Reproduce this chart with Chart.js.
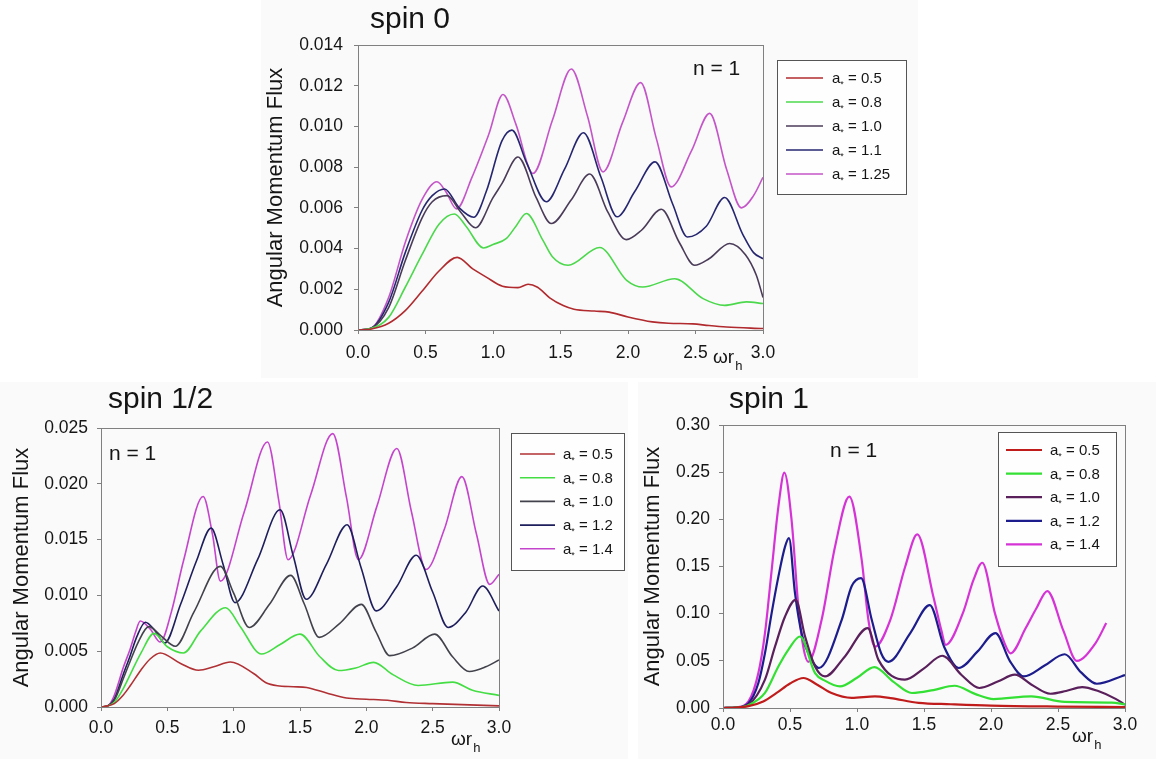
<!DOCTYPE html>
<html>
<head>
<meta charset="utf-8">
<script src="https://cdn.jsdelivr.net/npm/chart.js@4"></script>
<style>
  body { margin: 0; background: #fff; width: 1156px; height: 759px; position: relative; overflow: hidden; }
  .panel { position: absolute; background: #fafafa; }
  #p0 { left: 261px; top: 0; width: 657px; height: 378px; }
  #p1 { left: 0; top: 382px; width: 628px; height: 377px; }
  #p2 { left: 638px; top: 382px; width: 518px; height: 377px; }
  canvas { display: block; }
</style>
</head>
<body>
<div class="panel" id="p0"><canvas id="spin0" width="657" height="378"></canvas></div>
<div class="panel" id="p1"><canvas id="spinHalf" width="628" height="377"></canvas></div>
<div class="panel" id="p2"><canvas id="spin1" width="518" height="377"></canvas></div>
<script>
// ---- data (x = omega r_h, y = angular momentum flux) ----
const spin0Values = ['0.5', '0.8', '1.0', '1.1', '1.25'];
const spin0_a05 = [[0,0],[0.1,0.00005],[0.227,0.00033],[0.35,0.00095],[0.474,0.0019],[0.6,0.0029],[0.735,0.00357],[0.85,0.003],[0.95,0.0026],[1.07,0.00215],[1.185,0.00208],[1.26,0.00225],[1.33,0.0021],[1.42,0.00158],[1.52,0.0012],[1.6,0.00102],[1.75,0.00093],[1.86,0.00088],[2.0,0.00064],[2.18,0.0004],[2.3,0.00033],[2.48,0.0003],[2.6,0.00022],[2.73,0.00015],[3.0,0.00007]];
const spin0_a08 = [[0,0],[0.1,0.00008],[0.227,0.00062],[0.35,0.0021],[0.474,0.0037],[0.6,0.0052],[0.714,0.0057],[0.8,0.0051],[0.93,0.00403],[1.0,0.0042],[1.1,0.0045],[1.17,0.0051],[1.247,0.00572],[1.37,0.0044],[1.44,0.0036],[1.556,0.00318],[1.79,0.00405],[1.99,0.00244],[2.11,0.00211],[2.346,0.00252],[2.556,0.00154],[2.716,0.00121],[2.877,0.00138],[3.0,0.0013]];
const spin0_a10 = [[0,0],[0.1,0.0001],[0.227,0.0011],[0.35,0.0034],[0.474,0.0055],[0.55,0.0063],[0.66,0.0066],[0.76,0.0058],[0.87,0.00502],[1.0,0.0065],[1.067,0.0072],[1.185,0.0085],[1.32,0.0065],[1.432,0.00523],[1.58,0.0064],[1.716,0.00766],[1.85,0.0058],[1.988,0.00444],[2.1,0.0049],[2.247,0.00593],[2.38,0.0043],[2.494,0.00318],[2.6,0.0035],[2.753,0.00425],[2.87,0.0037],[2.95,0.0027],[3.0,0.0016]];
const spin0_a11 = [[0,0],[0.1,0.0001],[0.227,0.00136],[0.35,0.0038],[0.474,0.00587],[0.55,0.0066],[0.642,0.00693],[0.75,0.006],[0.857,0.00554],[0.95,0.0068],[1.067,0.0093],[1.14,0.00982],[1.25,0.0082],[1.395,0.0063],[1.53,0.0079],[1.67,0.00969],[1.8,0.0075],[1.92,0.00556],[2.05,0.0068],[2.2,0.00826],[2.33,0.0062],[2.44,0.00457],[2.58,0.0051],[2.716,0.00651],[2.85,0.0047],[2.93,0.0038],[3.0,0.0035]];
const spin0_a125 = [[0,0],[0.1,0.0001],[0.227,0.0016],[0.35,0.0043],[0.474,0.0064],[0.585,0.00728],[0.65,0.0068],[0.73,0.00595],[0.844,0.0075],[0.968,0.0096],[1.074,0.01157],[1.17,0.0101],[1.296,0.00769],[1.44,0.0103],[1.58,0.01282],[1.7,0.0105],[1.815,0.00777],[1.96,0.0102],[2.094,0.01215],[2.21,0.0094],[2.32,0.00703],[2.47,0.0088],[2.605,0.01064],[2.73,0.0079],[2.84,0.006],[2.93,0.0066],[3.0,0.0075]];

const spinHalfValues = ['0.5', '0.8', '1.0', '1.2', '1.4'];
const spinHalf_a05 = [[0,0],[0.05,0.0001],[0.1,0.0003],[0.17,0.0011],[0.22,0.0019],[0.3,0.0033],[0.37,0.0043],[0.447,0.00484],[0.6,0.0039],[0.735,0.00329],[0.85,0.0036],[0.975,0.00403],[1.15,0.003],[1.24,0.0022],[1.33,0.0019],[1.45,0.00182],[1.55,0.00175],[1.7,0.00125],[1.85,0.0008],[2.0,0.0007],[2.16,0.0006],[2.3,0.0004],[2.5,0.0003],[3.0,0.0001]];
const spinHalf_a08 = [[0,0],[0.05,0.0001],[0.1,0.0004],[0.17,0.0017],[0.22,0.0029],[0.3,0.0048],[0.4,0.0066],[0.5,0.0054],[0.622,0.00484],[0.75,0.0068],[0.94,0.0089],[1.05,0.0072],[1.21,0.00475],[1.35,0.0056],[1.5,0.00653],[1.65,0.0045],[1.79,0.00327],[1.92,0.0035],[2.055,0.004],[2.2,0.0029],[2.39,0.00193],[2.65,0.00223],[2.8,0.0015],[3.0,0.00104]];
const spinHalf_a10 = [[0,0],[0.05,0.0001],[0.1,0.0006],[0.17,0.0026],[0.22,0.0041],[0.28,0.0058],[0.36,0.0072],[0.45,0.0064],[0.56,0.00544],[0.7,0.0085],[0.9,0.0126],[1.0,0.0102],[1.117,0.00713],[1.27,0.0092],[1.43,0.01179],[1.53,0.0093],[1.645,0.00624],[1.8,0.0075],[1.962,0.0092],[2.07,0.0068],[2.177,0.0046],[2.35,0.0053],[2.515,0.00653],[2.65,0.0045],[2.776,0.00318],[2.9,0.0036],[3.0,0.00422]];
const spinHalf_a12 = [[0,0],[0.05,0.0001],[0.1,0.0007],[0.17,0.003],[0.22,0.0046],[0.27,0.0063],[0.334,0.0076],[0.41,0.0068],[0.48,0.00573],[0.6,0.0092],[0.72,0.0131],[0.83,0.01603],[0.92,0.0128],[1.01,0.00935],[1.18,0.0132],[1.35,0.01767],[1.45,0.0135],[1.547,0.00965],[1.7,0.0128],[1.855,0.01633],[1.96,0.0125],[2.075,0.00861],[2.23,0.0108],[2.376,0.0136],[2.5,0.0103],[2.616,0.00713],[2.75,0.0085],[2.877,0.01084],[3.0,0.0086]];
const spinHalf_a14 = [[0,0],[0.05,0.0001],[0.095,0.0009],[0.17,0.0036],[0.22,0.0052],[0.26,0.0067],[0.296,0.0077],[0.37,0.007],[0.447,0.00582],[0.53,0.0085],[0.622,0.0131],[0.77,0.01886],[0.84,0.0155],[0.9,0.01128],[1.08,0.0175],[1.255,0.02375],[1.34,0.0185],[1.41,0.0132],[1.58,0.019],[1.747,0.0245],[1.85,0.0188],[1.94,0.0132],[2.08,0.018],[2.23,0.02316],[2.34,0.0175],[2.45,0.01232],[2.59,0.016],[2.72,0.02064],[2.83,0.0155],[2.93,0.01099],[3.0,0.0119]];

const spin1Values = ['0.5', '0.8', '1.0', '1.2', '1.4'];
const spin1_a05 = [[0,0],[0.1,0.0005],[0.19,0.002],[0.3,0.007],[0.4,0.016],[0.5,0.026],[0.6,0.0318],[0.7,0.025],[0.81,0.0159],[0.96,0.0108],[1.134,0.0123],[1.25,0.0105],[1.46,0.0055],[1.7,0.004],[2.0,0.0025],[2.5,0.0015],[3.0,0.001]];
const spin1_a08 = [[0,0],[0.1,0.0005],[0.19,0.003],[0.313,0.016],[0.413,0.044],[0.487,0.0617],[0.575,0.0758],[0.687,0.037],[0.76,0.029],[0.873,0.0229],[1.0,0.032],[1.13,0.0434],[1.27,0.028],[1.41,0.0159],[1.57,0.019],[1.728,0.0236],[1.88,0.015],[2.02,0.0095],[2.3,0.0123],[2.55,0.0064],[2.9,0.0058],[3.0,0.004]];
const spin1_a10 = [[0,0],[0.1,0.0005],[0.19,0.0035],[0.313,0.03],[0.388,0.065],[0.463,0.097],[0.542,0.1147],[0.612,0.076],[0.687,0.044],[0.761,0.0335],[0.91,0.0547],[1.08,0.0847],[1.16,0.051],[1.358,0.03],[1.5,0.042],[1.636,0.0554],[1.78,0.035],[1.913,0.0212],[2.05,0.028],[2.178,0.0353],[2.3,0.025],[2.443,0.0151],[2.56,0.018],[2.68,0.0222],[2.8,0.018],[2.93,0.0097],[3.0,0.0035]];
const spin1_a12 = [[0,0],[0.1,0.0005],[0.19,0.005],[0.264,0.0265],[0.313,0.058],[0.363,0.1006],[0.413,0.139],[0.463,0.171],[0.4925,0.18],[0.537,0.122],[0.587,0.079],[0.662,0.051],[0.716,0.0424],[0.886,0.0935],[0.96,0.129],[1.03,0.1377],[1.11,0.0935],[1.18,0.058],[1.234,0.049],[1.4,0.08],[1.543,0.109],[1.65,0.065],[1.76,0.0424],[1.9,0.06],[2.033,0.0794],[2.14,0.05],[2.245,0.0335],[2.4,0.045],[2.55,0.057],[2.67,0.038],[2.79,0.0257],[3.0,0.035]];
const spin1_a14 = [[0,0],[0.1,0.0008],[0.19,0.007],[0.264,0.037],[0.313,0.079],[0.363,0.146],[0.413,0.213],[0.458,0.2495],[0.512,0.199],[0.562,0.108],[0.6,0.064],[0.637,0.049],[0.736,0.0935],[0.836,0.171],[0.943,0.224],[1.035,0.157],[1.085,0.0935],[1.134,0.065],[1.25,0.094],[1.36,0.15],[1.45,0.184],[1.57,0.118],[1.63,0.082],[1.662,0.067],[1.79,0.1006],[1.87,0.136],[1.935,0.154],[2.03,0.1],[2.1,0.069],[2.146,0.058],[2.26,0.085],[2.34,0.106],[2.42,0.124],[2.54,0.082],[2.64,0.05],[2.78,0.0688],[2.86,0.09]];

const xTicks = [0, 0.5, 1.0, 1.5, 2.0, 2.5, 3.0];

const FONT = '"Liberation Sans", Arial, sans-serif';
const TEXT = '#151515';
const AXIS = '#808080';

// frame, title, "n = 1", x-axis label and the boxed legend
const panelDecor = {
  id: 'panelDecor',
  afterDraw(chart, args, o) {
    const { ctx, chartArea: a } = chart;
    ctx.save();
    ctx.strokeStyle = AXIS;
    ctx.lineWidth = 1;
    ctx.strokeRect(Math.round(a.left) + 0.5, Math.round(a.top) + 0.5, Math.round(a.right - a.left), Math.round(a.bottom - a.top));

    ctx.fillStyle = TEXT;
    ctx.textBaseline = 'alphabetic';
    ctx.textAlign = 'left';
    ctx.font = '30px ' + FONT;
    ctx.fillText(o.title, o.titleX, o.titleY);
    ctx.font = '21px ' + FONT;
    ctx.fillText('n = 1', o.nX, o.nY);

    // omega r_h
    ctx.font = '19px ' + FONT;
    ctx.fillText('\u03C9r', o.wX, o.wY);
    const ww = ctx.measureText('\u03C9r').width;
    ctx.font = '13px ' + FONT;
    ctx.fillText('h', o.wX + ww + 1, o.wY + 7);

    // legend
    const L = o.legend;
    ctx.fillStyle = '#fefefe';
    ctx.fillRect(L.x, L.y, L.w, L.h);
    ctx.strokeStyle = '#555';
    ctx.strokeRect(L.x + 0.5, L.y + 0.5, L.w, L.h);
    chart.data.datasets.forEach((ds, i) => {
      const y = L.row0 + i * L.step;
      ctx.strokeStyle = ds.borderColor;
      ctx.lineWidth = ds.borderWidth;
      ctx.beginPath();
      ctx.moveTo(L.lineX0, y);
      ctx.lineTo(L.lineX1, y);
      ctx.stroke();
      ctx.fillStyle = TEXT;
      ctx.font = '15px ' + FONT;
      ctx.fillText('a', L.textX, y + 5);
      let x = L.textX + ctx.measureText('a').width;
      ctx.font = '9px ' + FONT;
      ctx.fillText('*', x, y + 9);
      x += ctx.measureText('*').width;
      ctx.font = '15px ' + FONT;
      ctx.fillText(' = ' + o.values[i], x, y + 5);
    });
    ctx.restore();
  }
};

function toPoints(arr) {
  return arr.map(p => ({ x: p[0], y: p[1] }));
}

function series(values, arrays, colors, width) {
  return arrays.map((arr, i) => ({
    label: 'a* = ' + values[i],
    data: toPoints(arr),
    borderColor: colors[i],
    borderWidth: width,
    pointRadius: 0,
    fill: false,
    cubicInterpolationMode: 'monotone'
  }));
}

function makeChart(id, cfg) {
  return new Chart(document.getElementById(id), {
    type: 'line',
    data: { datasets: cfg.datasets },
    options: {
      responsive: false,
      animation: false,
      layout: { padding: { left: 0, top: cfg.top, right: cfg.right, bottom: 0 } },
      plugins: {
        legend: { display: false },
        tooltip: { enabled: false },
        panelDecor: cfg.decor
      },
      scales: {
        x: {
          type: 'linear',
          min: 0, max: 3,
          afterFit: s => { s.height = cfg.xHeight; },
          afterBuildTicks: s => { s.ticks = xTicks.map(v => ({ value: v })); },
          grid: { drawOnChartArea: false, drawTicks: true, tickLength: 4, color: AXIS },
          border: { display: true, color: AXIS },
          ticks: {
            padding: cfg.xPad,
            color: TEXT,
            maxRotation: 0,
            font: { family: FONT, size: 17.5 },
            callback: v => v.toFixed(1)
          }
        },
        y: {
          min: 0, max: cfg.yMax,
          afterFit: s => { s.width = cfg.yWidth; },
          afterBuildTicks: s => { s.ticks = cfg.yTicks.map(v => ({ value: v })); },
          grid: { drawOnChartArea: false, drawTicks: true, tickLength: 4, color: AXIS },
          border: { display: true, color: AXIS },
          ticks: {
            padding: cfg.yPad,
            color: TEXT,
            font: { family: FONT, size: 17.5 },
            callback: v => v.toFixed(cfg.digits)
          },
          title: {
            display: true,
            text: 'Angular Momentum Flux',
            color: TEXT,
            font: { family: FONT, size: 22 },
            padding: { top: cfg.titlePad, bottom: 0 }
          }
        }
      }
    },
    plugins: [panelDecor]
  });
}

makeChart('spin0', {
  datasets: series(spin0Values, [spin0_a05, spin0_a08, spin0_a10, spin0_a11, spin0_a125],
    ['#b02a2e', '#4cd84c', '#4a3b58', '#262670', '#c455c8'], 1.6),
  yMax: 0.014, yTicks: [0, 0.002, 0.004, 0.006, 0.008, 0.010, 0.012, 0.014], digits: 3,
  top: 45, right: 155, yWidth: 97, xHeight: 48, xPad: 9, yPad: 11, titlePad: 2,
  decor: {
    title: 'spin 0', titleX: 109, titleY: 28, nX: 432, nY: 75, wX: 452, wY: 363, values: spin0Values,
    legend: { x: 516, y: 60, w: 129, h: 134, lineX0: 525, lineX1: 562, textX: 571, row0: 78, step: 24 }
  }
});

makeChart('spinHalf', {
  datasets: series(spinHalfValues, [spinHalf_a05, spinHalf_a08, spinHalf_a10, spinHalf_a12, spinHalf_a14],
    ['#b03034', '#44dd44', '#42424c', '#1e1e5c', '#c444cc'], 1.6),
  yMax: 0.025, yTicks: [0, 0.005, 0.010, 0.015, 0.020, 0.025], digits: 3,
  top: 46, right: 129, yWidth: 101, xHeight: 52, xPad: 7, yPad: 9, titlePad: 9,
  decor: {
    title: 'spin 1/2', titleX: 108, titleY: 26, nX: 109, nY: 78, wX: 451, wY: 363, values: spinHalfValues,
    legend: { x: 511, y: 51, w: 113, h: 137, lineX0: 520, lineX1: 555, textX: 563, row0: 72, step: 23.7 }
  }
});

makeChart('spin1', {
  datasets: series(spin1Values, [spin1_a05, spin1_a08, spin1_a10, spin1_a12, spin1_a14],
    ['#c01c1c', '#33e033', '#5a205c', '#1c1c8c', '#d533d5'], 2.2),
  yMax: 0.30, yTicks: [0, 0.05, 0.10, 0.15, 0.20, 0.25, 0.30], digits: 2,
  top: 43, right: 31, yWidth: 85, xHeight: 51, xPad: 3, yPad: 9, titlePad: 2,
  decor: {
    title: 'spin 1', titleX: 91, titleY: 26, nX: 192, nY: 75, wX: 434, wY: 360, values: spin1Values,
    legend: { x: 360, y: 50, w: 118, h: 134, lineX0: 368, lineX1: 404, textX: 412, row0: 68, step: 23.6 }
  }
});
</script>
</body>
</html>
